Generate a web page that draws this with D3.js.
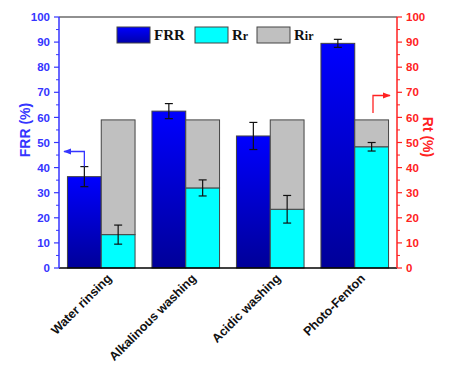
<!DOCTYPE html>
<html><head><meta charset="utf-8">
<script src="https://cdn.jsdelivr.net/npm/d3@7"></script>
<style>body{margin:0;background:#fff;}svg{display:block;}</style>
</head><body>
<svg id="c" width="451" height="366"></svg>
<script>
const categories = ["Water rinsing","Alkalinous washing","Acidic washing","Photo-Fenton"];
const frr = [36.4, 62.5, 52.6, 89.5];
const frrErr = [4.0, 3.0, 5.4, 1.6];
const rr = [13.3, 31.9, 23.4, 48.3];
const rrErr = [3.8, 3.2, 5.5, 1.7];
const rir = [45.7, 27.1, 35.6, 10.7];
const yTicks = [0,10,20,30,40,50,60,70,80,90,100];

const svg = d3.select("#c");
const m = {l:59, r:397, t:17, b:268};
const blue = "#3535ff", red = "#ff2222";

const defs = svg.append("defs");
const g = defs.append("linearGradient").attr("id","gb").attr("x1",0).attr("y1",0).attr("x2",0).attr("y2",1);
g.append("stop").attr("offset","0%").attr("stop-color","#0000ff");
g.append("stop").attr("offset","100%").attr("stop-color","#000098");
const gl = defs.append("linearGradient").attr("id","gl").attr("x1",0).attr("y1",0).attr("x2",0).attr("y2",1);
gl.append("stop").attr("offset","0%").attr("stop-color","#0000ff");
gl.append("stop").attr("offset","100%").attr("stop-color","#0000aa");
const mk = defs.append("marker").attr("id","ab").attr("viewBox","0 0 10 10").attr("refX",9).attr("refY",5)
  .attr("markerWidth",6).attr("markerHeight",6).attr("orient","auto-start-reverse");
mk.append("path").attr("d","M0,1L10,5L0,9Z").attr("fill",blue);
const mk2 = defs.append("marker").attr("id","ar").attr("viewBox","0 0 10 10").attr("refX",9).attr("refY",5)
  .attr("markerWidth",6).attr("markerHeight",6).attr("orient","auto");
mk2.append("path").attr("d","M0,1L10,5L0,9Z").attr("fill",red);

const x0 = d3.scaleBand().domain(categories).range([m.l, m.r]).paddingInner(0.2).paddingOuter(0.1);
const x1 = d3.scaleBand().domain(["FRR","R"]).range([0, x0.bandwidth()]);
const y = d3.scaleLinear().domain([0,100]).range([m.b, m.t]);

const stroke = "#444";
categories.forEach((c,i)=>{
  const bx = x0(c);
  svg.append("rect").attr("x", bx + x1("FRR")).attr("y", y(frr[i])).attr("width", x1.bandwidth())
    .attr("height", y(0)-y(frr[i])).attr("fill","url(#gb)").attr("stroke",stroke).attr("stroke-width",1);
  svg.append("rect").attr("x", bx + x1("R")).attr("y", y(rr[i])).attr("width", x1.bandwidth())
    .attr("height", y(0)-y(rr[i])).attr("fill","#00ffff").attr("stroke",stroke).attr("stroke-width",1);
  svg.append("rect").attr("x", bx + x1("R")).attr("y", y(rr[i]+rir[i])).attr("width", x1.bandwidth())
    .attr("height", y(rr[i])-y(rr[i]+rir[i])).attr("fill","#c0c0c0").attr("stroke",stroke).attr("stroke-width",1);
  [[x1("FRR"), frr[i], frrErr[i]], [x1("R"), rr[i], rrErr[i]]].forEach(([ox,v,e])=>{
    const cx = bx + ox + x1.bandwidth()/2;
    const eg = svg.append("g").attr("stroke","#111").attr("stroke-width",1.2);
    eg.append("line").attr("x1",cx).attr("x2",cx).attr("y1",y(v+e)).attr("y2",y(v-e));
    eg.append("line").attr("x1",cx-4).attr("x2",cx+4).attr("y1",y(v+e)).attr("y2",y(v+e));
    eg.append("line").attr("x1",cx-4).attr("x2",cx+4).attr("y1",y(v-e)).attr("y2",y(v-e));
  });
});

svg.append("line").attr("x1",m.l).attr("x2",m.r).attr("y1",m.t).attr("y2",m.t).attr("stroke","#222").attr("stroke-width",1.2);
svg.append("line").attr("x1",m.l).attr("x2",m.r).attr("y1",m.b).attr("y2",m.b).attr("stroke","#000").attr("stroke-width",1.5);

const minor = d3.range(5,100,10);
function drawAxis(xpos, color, dir){
  const ax = svg.append("g");
  ax.append("line").attr("x1",xpos).attr("x2",xpos).attr("y1",m.t).attr("y2",m.b).attr("stroke",color).attr("stroke-width",1.5);
  yTicks.forEach(t=>{
    ax.append("line").attr("x1",xpos).attr("x2",xpos+dir*5).attr("y1",y(t)).attr("y2",y(t)).attr("stroke",color).attr("stroke-width",1.2);
    ax.append("text").attr("x", xpos+dir*9).attr("y", y(t)).attr("dy","0.36em")
      .attr("text-anchor", dir<0?"end":"start").attr("fill",color)
      .attr("font-family","Liberation Sans, Arial, sans-serif").attr("font-weight","bold").attr("font-size",11.5).text(t);
  });
  minor.forEach(t=>{
    ax.append("line").attr("x1",xpos).attr("x2",xpos+dir*3).attr("y1",y(t)).attr("y2",y(t)).attr("stroke",color).attr("stroke-width",1);
  });
}
drawAxis(m.l, blue, -1);
drawAxis(m.r, red, 1);

svg.append("text").attr("transform","translate(25,130) rotate(-90)").attr("text-anchor","middle").attr("dy","0.35em")
  .attr("fill",blue).attr("font-family","Liberation Sans, Arial, sans-serif").attr("font-weight","bold").attr("font-size",14).text("FRR (%)");
svg.append("text").attr("transform","translate(428,137) rotate(90)").attr("text-anchor","middle").attr("dy","0.35em")
  .attr("fill",red).attr("font-family","Liberation Sans, Arial, sans-serif").attr("font-weight","bold").attr("font-size",14).text("Rt (%)");

categories.forEach(c=>{
  const cx = x0(c) + x0.bandwidth()/2 + 8;
  svg.append("text").attr("transform",`translate(${cx},${m.b+8}) rotate(-45)`).attr("text-anchor","end").attr("dy","0.35em")
    .attr("font-family","Liberation Sans, Arial, sans-serif").attr("font-weight","bold").attr("font-size",12.5).attr("fill","#111").text(c);
});

const leg = [["FRR","url(#gl)",117],["Rr","#00ffff",195],["Rir","#c0c0c0",257]];
leg.forEach(([name,fill,lx])=>{
  svg.append("rect").attr("x",lx).attr("y",27).attr("width",33).attr("height",16).attr("fill",fill).attr("stroke",stroke);
  const t = svg.append("text").attr("x",lx+37).attr("y",40).attr("font-family","Liberation Serif, Times New Roman, serif")
    .attr("font-weight","bold").attr("font-size",15).attr("fill","#111");
  if(name==="FRR") t.text("FRR");
  else { t.append("tspan").text("R"); t.append("tspan").attr("font-size",12).text(name.slice(1)); }
});

svg.append("path").attr("d",`M${x0(categories[0])+x1("FRR")+x1.bandwidth()/2},${y(frr[0]+frrErr[0])} V151.5 H64`)
  .attr("fill","none").attr("stroke",blue).attr("stroke-width",1.3).attr("marker-end","url(#ab)");
svg.append("path").attr("d",`M373,113 V95.5 H390`)
  .attr("fill","none").attr("stroke",red).attr("stroke-width",1.3).attr("marker-end","url(#ar)");
</script>
</body></html>
